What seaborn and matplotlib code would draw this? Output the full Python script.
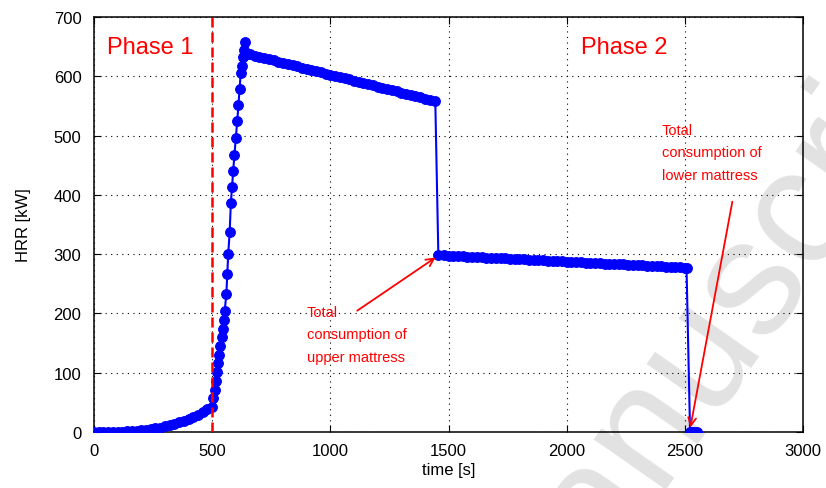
import matplotlib
matplotlib.use("Agg")
import matplotlib.pyplot as plt
import seaborn as sns
import pandas as pd

# ---- data ----
time_phase1 = [0, 20, 40, 60, 80, 100, 120, 140, 160, 180, 200, 220, 240, 260, 280,
               300, 320, 340, 360, 380, 400, 420, 440, 460, 480, 500]
hrr_phase1 = [0.0, 0.0, 0.0, 0.1, 0.2, 0.35, 0.6, 0.95, 1.4, 2.0, 2.8, 3.7, 4.8, 6.1, 7.6,
              9.3, 11.3, 13.6, 16.2, 19.0, 22.2, 25.7, 29.5, 33.7, 38.3, 43.0]

time_rise = [505, 510, 515, 520, 525, 530, 535, 540, 545, 549, 553, 560, 564, 568, 574,
             579, 584, 589, 594, 600, 606, 611, 616, 621, 625, 630, 633, 641]
hrr_rise = [57, 71, 86, 101, 116, 130, 145, 160, 174, 189, 204, 233, 266, 301, 337,
            386, 414, 441, 467, 496, 524, 551, 579, 606, 618, 632, 644, 657]

time_upper = [650, 660, 680, 700, 720, 740, 760, 780, 800, 820, 840, 860, 880, 900, 920,
              940, 960, 980, 1000, 1020, 1040, 1060, 1080, 1100, 1120, 1140, 1160, 1180,
              1200, 1220, 1240, 1260, 1280, 1300, 1320, 1340, 1360, 1380, 1400, 1420, 1444]
hrr_upper = [638.0, 636.8, 634.8, 632.8, 630.8, 628.8, 626.7, 624.7, 622.7, 620.7, 618.7,
             616.7, 614.7, 612.7, 610.7, 608.7, 606.6, 604.6, 602.6, 600.6, 598.6, 596.6,
             594.6, 592.6, 590.6, 588.6, 586.5, 584.5, 582.5, 580.5, 578.5, 576.5, 574.5,
             572.5, 570.5, 568.5, 566.4, 564.4, 562.4, 560.4, 558.4]

time_lower = [1457, 1480, 1500, 1520, 1540, 1560, 1580, 1600, 1620, 1640, 1660, 1680,
              1700, 1720, 1740, 1760, 1780, 1800, 1820, 1840, 1860, 1880, 1900, 1920,
              1940, 1960, 1980, 2000, 2020, 2040, 2060, 2080, 2100, 2120, 2140, 2160,
              2180, 2200, 2220, 2240, 2260, 2280, 2300, 2320, 2340, 2360, 2380, 2400,
              2420, 2440, 2460, 2480, 2500, 2507]
hrr_lower = [298.5, 298.0, 297.6, 297.2, 296.8, 296.4, 296.0, 295.6, 295.2, 294.8, 294.3,
             293.9, 293.5, 293.1, 292.7, 292.3, 291.9, 291.5, 291.1, 290.7, 290.3, 289.9,
             289.5, 289.1, 288.7, 288.3, 287.9, 287.5, 287.1, 286.7, 286.2, 285.8, 285.4,
             285.0, 284.6, 284.2, 283.8, 283.4, 283.0, 282.6, 282.2, 281.8, 281.4, 281.0,
             280.6, 280.2, 279.8, 279.4, 279.0, 278.5, 278.1, 277.7, 277.3, 277.0]

time_end = [2522, 2530, 2540, 2552]
hrr_end = [0.5, 0.0, 0.0, 0.0]

x_ticks = [0, 500, 1000, 1500, 2000, 2500, 3000]
y_ticks = [0, 100, 200, 300, 400, 500, 600, 700]

df = pd.DataFrame({
    "time": time_phase1 + time_rise + time_upper + time_lower + time_end,
    "hrr": hrr_phase1 + hrr_rise + hrr_upper + hrr_lower + hrr_end,
})

# ---- style ----
sns.set_theme(style="white")
plt.rcParams["font.family"] = ["Liberation Sans", "DejaVu Sans"]

fig = plt.figure(figsize=(8.26, 4.89), dpi=100)
ax = fig.add_axes([0.1138, 0.1145, 0.8584, 0.8487])
ax.set_zorder(1)
ax.set_facecolor("none")

# watermark (behind the axes)
fig.text(0.872, 0.348, "Manuscript", fontsize=120, color="#e2e2e2", rotation=55,
         ha="center", va="center", zorder=-5)

sns.lineplot(data=df, x="time", y="hrr", sort=False, estimator=None, ax=ax,
             color="#0000ff", linewidth=1.5, marker="o", markersize=7,
             markeredgecolor="#0000ff", markeredgewidth=0.8, zorder=3)

ax.axvline(500, color="#ff0000", linestyle=(0, (4, 2)), linewidth=1.8, zorder=4)

ax.set_xlim(0, 3000)
ax.set_ylim(0, 700)
ax.set_xticks(x_ticks)
ax.set_yticks(y_ticks)
ax.set_xticklabels([str(v) for v in x_ticks])
ax.set_yticklabels([str(v) for v in y_ticks])
ax.grid(True, color="black", linestyle=(0, (1, 4)), linewidth=0.8)
ax.set_axisbelow(True)
for s in ax.spines.values():
    s.set_color("black")
    s.set_linewidth(1.1)
ax.tick_params(direction="in", length=5, width=0.8, color="black",
               top=True, right=True, bottom=True, left=True,
               labelsize=12, labelcolor="black")
ax.tick_params(axis="x", pad=8)
ax.tick_params(axis="y", pad=9)

ax.set_xlabel("time [s]", fontsize=12, color="black", labelpad=3)
ax.set_ylabel("HRR [kW]", fontsize=12, color="black", labelpad=16)

ax.text(237, 649, "Phase 1", color="#ff0000", fontsize=17, ha="center", va="center")
ax.text(2242, 649, "Phase 2", color="#ff0000", fontsize=17, ha="center", va="center")

ax.annotate("", xy=(1455, 297), xytext=(1104, 202),
            arrowprops=dict(arrowstyle="->", color="#ff0000", lw=1.3,
                            mutation_scale=14), zorder=5)
ax.text(901, 215, "Total\nconsumption of\nupper mattress", color="#ff0000",
        fontsize=10.5, ha="left", va="top", linespacing=1.8)

ax.annotate("", xy=(2521, 3), xytext=(2703, 393),
            arrowprops=dict(arrowstyle="->", color="#ff0000", lw=1.3,
                            mutation_scale=14), zorder=5)
ax.text(2403, 522, "Total\nconsumption of\nlower mattress", color="#ff0000",
        fontsize=10.5, ha="left", va="top", linespacing=1.8)

fig.savefig("out.png", dpi=100)
